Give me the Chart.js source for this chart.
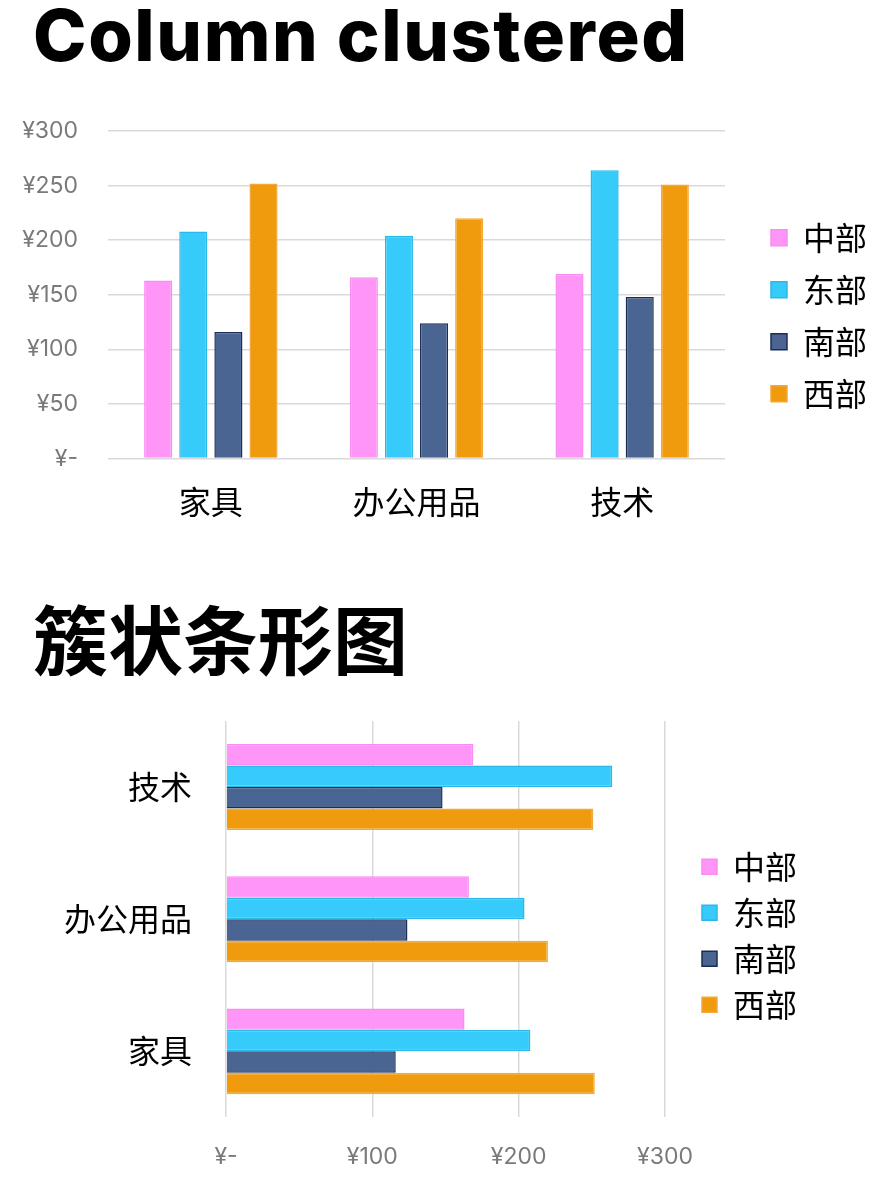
<!DOCTYPE html>
<html>
<head>
<meta charset="utf-8">
<script src="https://cdn.jsdelivr.net/npm/chart.js@4"></script>
<style>
  html, body { margin:0; padding:0; background:#fff; width:896px; height:1180px; overflow:hidden; }
  .title1 { position:absolute; left:33px; top:-1px; font-family: Inter, "Noto Sans", sans-serif; font-weight:800; font-size:72px; line-height:72px; color:#000; letter-spacing:1.6px; white-space:nowrap; }
  .title2 { position:absolute; left:33px; top:582px; font-family: "Noto Sans CJK SC", sans-serif; font-weight:700; font-size:75px; color:#000; white-space:nowrap; }
  .box { position:absolute; }
</style>
</head>
<body>
<div class="title1">Column clustered</div>
<div class="title2">簇状条形图</div>
<div class="box" style="left:0; top:100px; width:896px; height:440px;"><canvas id="c1"></canvas></div>
<div class="box" style="left:0; top:700px; width:896px; height:480px;"><canvas id="c2"></canvas></div>
<script>
const categories = ['家具', '办公用品', '技术'];
const regions = ['中部', '东部', '南部', '西部'];
const central = [163, 166, 169];
const east = [208, 204, 264];
const south = [116, 124, 148];
const west = [252, 220, 251];
const yTicks = [0, 50, 100, 150, 200, 250, 300];
const xTicks = [0, 100, 200, 300];

const fills = ['#FF95F7', '#36CBFA', '#4A6592', '#F09B0D'];
const borders = ['#F98BF2', '#2BB8E8', '#1C2D55', '#F2A83A'];
const seriesValues = [central, east, south, west];

const cjk = '"Noto Sans CJK SC", sans-serif';
const latin = 'Inter, "Noto Sans", sans-serif';
const fmt = v => v === 0 ? '¥-' : '¥' + v;

function makeDatasets(bp, cp) {
  return regions.map((r, i) => ({
    label: r,
    data: seriesValues[i],
    xAxisID: 'x',
    yAxisID: 'y',
    backgroundColor: fills[i],
    borderColor: borders[i],
    borderWidth: 1.5,
    barPercentage: bp,
    categoryPercentage: cp
  }));
}

const legendOpts = (fontSize, padding, box, titlePad) => ({
  position: 'right',
  align: 'center',
  fullSize: false,
  title: { display: true, text: ' ', font: { size: 10 }, padding: { top: titlePad, bottom: titlePad } },
  labels: {
    font: { family: cjk, size: fontSize },
    color: '#000',
    boxWidth: box,
    boxHeight: box,
    padding: padding
  }
});

const spacer = w => ({
  type: 'linear', position: 'right', display: true, min: 0, max: 1,
  grid: { display: false, drawTicks: false },
  border: { display: false },
  ticks: { display: false },
  afterFit: s => { s.width = w; }
});

new Chart(document.getElementById('c1'), {
  type: 'bar',
  data: { labels: categories, datasets: makeDatasets(0.8, 0.683) },
  options: {
    responsive: true,
    maintainAspectRatio: false,
    animation: false,
    layout: { padding: { top: 31, bottom: 19, left: 0, right: 19 } },
    plugins: { legend: legendOpts(32, 20, 16, 15), tooltip: { enabled: false } },
    scales: {
      x: {
        grid: { display: false, drawTicks: true, tickLength: 24, tickColor: 'rgba(0,0,0,0)' },
        border: { display: false },
        ticks: { font: { family: cjk, size: 32 }, color: '#000', padding: 0 }
      },
      y: {
        min: 0, max: 300,
        afterBuildTicks: s => { s.ticks = yTicks.map(v => ({ value: v })); },
        afterFit: s => { s.width = 108; },
        grid: { color: '#d9d9d9', lineWidth: 1.5, drawTicks: true, tickLength: 30, tickColor: 'rgba(0,0,0,0)' },
        border: { display: false },
        ticks: { font: { family: latin, size: 23 }, color: '#7a7a7a', padding: 0, callback: fmt }
      },
      gap: spacer(26)
    }
  }
});

new Chart(document.getElementById('c2'), {
  type: 'bar',
  data: { labels: categories, datasets: makeDatasets(1.0, 0.65) },
  options: {
    indexAxis: 'y',
    responsive: true,
    maintainAspectRatio: false,
    animation: false,
    layout: { padding: { top: 21, bottom: 9, left: 0, right: 89 } },
    plugins: { legend: legendOpts(32, 14, 15, 10.5), tooltip: { enabled: false } },
    scales: {
      y: {
        reverse: true,
        afterFit: s => { s.width = 226; },
        grid: { display: false, drawTicks: true, tickLength: 34, tickColor: 'rgba(0,0,0,0)' },
        border: { display: false },
        ticks: { font: { family: cjk, size: 32 }, color: '#000', padding: 0 }
      },
      x: {
        min: 0, max: 300,
        afterBuildTicks: s => { s.ticks = xTicks.map(v => ({ value: v })); },
        grid: { color: '#d9d9d9', lineWidth: 1.5, drawTicks: true, tickLength: 26, tickColor: 'rgba(0,0,0,0)' },
        border: { display: false },
        ticks: { font: { family: latin, size: 23 }, color: '#7a7a7a', padding: 0, callback: fmt }
      },
      gap: spacer(23)
    }
  }
});
</script>
</body>
</html>
